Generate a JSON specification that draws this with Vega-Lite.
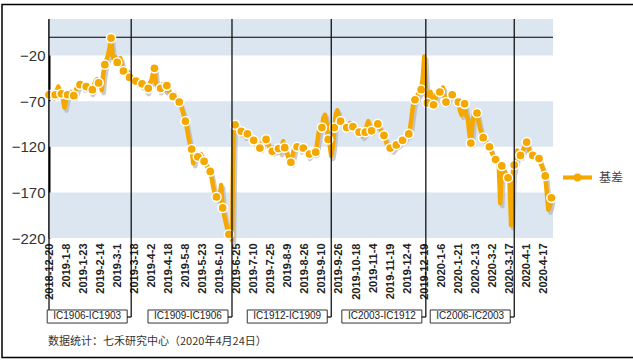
{
"$schema":"https://vega.github.io/schema/vega-lite/v6.json",
"width":504,"height":219,
"padding":{"left":1,"top":3,"right":2,"bottom":2},
"background":"white",
"config":{"view":{"stroke":null},"font":"Liberation Sans"},
"datasets":{
"basis":[
{"d":"2018-12-20","v":-63},{"d":"2018-12-21","v":-60},{"d":"2018-12-24","v":-64},{"d":"2018-12-25","v":-62},{"d":"2018-12-26","v":-63},{"d":"2018-12-27","v":-58},{"d":"2018-12-28","v":-54},
{"d":"2019-01-02","v":-60},{"d":"2019-01-03","v":-62},{"d":"2019-01-04","v":-68},{"d":"2019-01-07","v":-77},{"d":"2019-01-08","v":-68},{"d":"2019-01-09","v":-63},{"d":"2019-01-10","v":-62},{"d":"2019-01-11","v":-60},{"d":"2019-01-14","v":-63},{"d":"2019-01-15","v":-64},{"d":"2019-01-16","v":-60},{"d":"2019-01-17","v":-55},{"d":"2019-01-18","v":-53},{"d":"2019-01-21","v":-52},{"d":"2019-01-22","v":-50},{"d":"2019-01-23","v":-55},{"d":"2019-01-24","v":-52},{"d":"2019-01-25","v":-54},{"d":"2019-01-28","v":-52},{"d":"2019-01-29","v":-56},{"d":"2019-01-30","v":-60},{"d":"2019-01-31","v":-57.5},
{"d":"2019-02-01","v":-52},{"d":"2019-02-11","v":-48},{"d":"2019-02-12","v":-46},{"d":"2019-02-13","v":-50},{"d":"2019-02-14","v":-48},{"d":"2019-02-15","v":-58},{"d":"2019-02-18","v":-40},{"d":"2019-02-19","v":-30},{"d":"2019-02-20","v":-25},{"d":"2019-02-21","v":-20},{"d":"2019-02-22","v":-12},{"d":"2019-02-25","v":-1},{"d":"2019-02-26","v":-20},{"d":"2019-02-27","v":-25},{"d":"2019-02-28","v":-22},
{"d":"2019-03-01","v":-27.6},{"d":"2019-03-04","v":-25},{"d":"2019-03-05","v":-23},{"d":"2019-03-06","v":-30},{"d":"2019-03-07","v":-37},{"d":"2019-03-08","v":-40},{"d":"2019-03-11","v":-42},{"d":"2019-03-12","v":-38},{"d":"2019-03-13","v":-44},{"d":"2019-03-14","v":-46},{"d":"2019-03-15","v":-45},{"d":"2019-03-18","v":-48},{"d":"2019-03-19","v":-48},{"d":"2019-03-20","v":-50},{"d":"2019-03-21","v":-48},{"d":"2019-03-22","v":-52},{"d":"2019-03-25","v":-51},{"d":"2019-03-26","v":-54},{"d":"2019-03-27","v":-57},{"d":"2019-03-28","v":-59},{"d":"2019-03-29","v":-56},
{"d":"2019-04-01","v":-50},{"d":"2019-04-02","v":-48},{"d":"2019-04-03","v":-40},{"d":"2019-04-04","v":-34},{"d":"2019-04-08","v":-50},{"d":"2019-04-09","v":-55},{"d":"2019-04-10","v":-58},{"d":"2019-04-11","v":-56},{"d":"2019-04-12","v":-52},{"d":"2019-04-15","v":-55},{"d":"2019-04-16","v":-58},{"d":"2019-04-17","v":-53},{"d":"2019-04-18","v":-58},{"d":"2019-04-19","v":-62},{"d":"2019-04-22","v":-64},{"d":"2019-04-23","v":-65},{"d":"2019-04-24","v":-62},{"d":"2019-04-25","v":-68},{"d":"2019-04-26","v":-70},{"d":"2019-04-29","v":-71},{"d":"2019-04-30","v":-75},
{"d":"2019-05-06","v":-80},{"d":"2019-05-07","v":-86},{"d":"2019-05-08","v":-92},{"d":"2019-05-09","v":-100},{"d":"2019-05-10","v":-110},{"d":"2019-05-13","v":-118},{"d":"2019-05-14","v":-122.5},{"d":"2019-05-15","v":-138},{"d":"2019-05-16","v":-130},{"d":"2019-05-17","v":-128},{"d":"2019-05-20","v":-131},{"d":"2019-05-21","v":-130},{"d":"2019-05-22","v":-128},{"d":"2019-05-23","v":-134},{"d":"2019-05-24","v":-136},{"d":"2019-05-27","v":-138},{"d":"2019-05-28","v":-142},{"d":"2019-05-29","v":-145},{"d":"2019-05-30","v":-147},{"d":"2019-05-31","v":-155},
{"d":"2019-06-03","v":-165},{"d":"2019-06-04","v":-172},{"d":"2019-06-05","v":-175},{"d":"2019-06-06","v":-178},{"d":"2019-06-10","v":-176},{"d":"2019-06-11","v":-162},{"d":"2019-06-12","v":-187},{"d":"2019-06-13","v":-195},{"d":"2019-06-14","v":-203},{"d":"2019-06-17","v":-210},{"d":"2019-06-18","v":-216},{"d":"2019-06-19","v":-219},{"d":"2019-06-20","v":-222},{"d":"2019-06-21","v":-100},{"d":"2019-06-24","v":-96},{"d":"2019-06-25","v":-98},{"d":"2019-06-26","v":-101},{"d":"2019-06-27","v":-104},{"d":"2019-06-28","v":-103},
{"d":"2019-07-01","v":-102},{"d":"2019-07-02","v":-108},{"d":"2019-07-03","v":-104},{"d":"2019-07-04","v":-106},{"d":"2019-07-05","v":-110},{"d":"2019-07-08","v":-108},{"d":"2019-07-09","v":-112},{"d":"2019-07-10","v":-113},{"d":"2019-07-11","v":-116},{"d":"2019-07-12","v":-119},{"d":"2019-07-15","v":-118},{"d":"2019-07-16","v":-121.5},{"d":"2019-07-17","v":-118},{"d":"2019-07-18","v":-114},{"d":"2019-07-19","v":-112},{"d":"2019-07-22","v":-112},{"d":"2019-07-23","v":-116},{"d":"2019-07-24","v":-120},{"d":"2019-07-25","v":-124},{"d":"2019-07-26","v":-125},{"d":"2019-07-29","v":-121},{"d":"2019-07-30","v":-124},{"d":"2019-07-31","v":-120},
{"d":"2019-08-01","v":-122},{"d":"2019-08-02","v":-126},{"d":"2019-08-05","v":-120},{"d":"2019-08-06","v":-114},{"d":"2019-08-07","v":-121},{"d":"2019-08-08","v":-126},{"d":"2019-08-09","v":-130},{"d":"2019-08-12","v":-134},{"d":"2019-08-13","v":-137},{"d":"2019-08-14","v":-130},{"d":"2019-08-15","v":-122},{"d":"2019-08-16","v":-119},{"d":"2019-08-19","v":-120},{"d":"2019-08-20","v":-118},{"d":"2019-08-21","v":-123},{"d":"2019-08-22","v":-121},{"d":"2019-08-23","v":-121.5},{"d":"2019-08-26","v":-124},{"d":"2019-08-27","v":-127},{"d":"2019-08-28","v":-130},{"d":"2019-08-29","v":-128},{"d":"2019-08-30","v":-127},
{"d":"2019-09-02","v":-125},{"d":"2019-09-03","v":-127},{"d":"2019-09-04","v":-126},{"d":"2019-09-05","v":-115},{"d":"2019-09-06","v":-103},{"d":"2019-09-09","v":-100},{"d":"2019-09-10","v":-99},{"d":"2019-09-11","v":-88},{"d":"2019-09-12","v":-85},{"d":"2019-09-16","v":-95},{"d":"2019-09-17","v":-112},{"d":"2019-09-18","v":-118},{"d":"2019-09-19","v":-130},{"d":"2019-09-20","v":-120},{"d":"2019-09-23","v":-99},{"d":"2019-09-24","v":-84},{"d":"2019-09-25","v":-80},{"d":"2019-09-26","v":-88},{"d":"2019-09-27","v":-92},{"d":"2019-09-30","v":-95},
{"d":"2019-10-08","v":-97},{"d":"2019-10-09","v":-96},{"d":"2019-10-10","v":-99},{"d":"2019-10-11","v":-97},{"d":"2019-10-14","v":-94},{"d":"2019-10-15","v":-95},{"d":"2019-10-16","v":-98},{"d":"2019-10-17","v":-100},{"d":"2019-10-18","v":-102},{"d":"2019-10-21","v":-103},{"d":"2019-10-22","v":-104},{"d":"2019-10-23","v":-106},{"d":"2019-10-24","v":-108},{"d":"2019-10-25","v":-106},{"d":"2019-10-28","v":-104},{"d":"2019-10-29","v":-96},{"d":"2019-10-30","v":-92},{"d":"2019-10-31","v":-100},
{"d":"2019-11-01","v":-102.5},{"d":"2019-11-04","v":-99},{"d":"2019-11-05","v":-96},{"d":"2019-11-06","v":-95},{"d":"2019-11-07","v":-95},{"d":"2019-11-08","v":-98},{"d":"2019-11-11","v":-102},{"d":"2019-11-12","v":-105},{"d":"2019-11-13","v":-107.6},{"d":"2019-11-14","v":-112},{"d":"2019-11-15","v":-118},{"d":"2019-11-18","v":-122},{"d":"2019-11-19","v":-121.5},{"d":"2019-11-20","v":-123},{"d":"2019-11-21","v":-121},{"d":"2019-11-22","v":-119},{"d":"2019-11-25","v":-118},{"d":"2019-11-26","v":-117},{"d":"2019-11-27","v":-115},{"d":"2019-11-28","v":-114},{"d":"2019-11-29","v":-113},
{"d":"2019-12-02","v":-111},{"d":"2019-12-03","v":-108},{"d":"2019-12-04","v":-107},{"d":"2019-12-05","v":-106},{"d":"2019-12-06","v":-98},{"d":"2019-12-09","v":-85},{"d":"2019-12-10","v":-72},{"d":"2019-12-11","v":-68.5},{"d":"2019-12-12","v":-66},{"d":"2019-12-13","v":-62},{"d":"2019-12-16","v":-60},{"d":"2019-12-17","v":-57.5},{"d":"2019-12-18","v":-45},{"d":"2019-12-19","v":-21},{"d":"2019-12-20","v":-55},{"d":"2019-12-23","v":-72},{"d":"2019-12-24","v":-68},{"d":"2019-12-25","v":-60},{"d":"2019-12-26","v":-70},{"d":"2019-12-27","v":-74},{"d":"2019-12-30","v":-68},{"d":"2019-12-31","v":-62},
{"d":"2020-01-02","v":-58},{"d":"2020-01-03","v":-60},{"d":"2020-01-06","v":-62},{"d":"2020-01-07","v":-55},{"d":"2020-01-08","v":-65},{"d":"2020-01-09","v":-71},{"d":"2020-01-10","v":-68},{"d":"2020-01-13","v":-64},{"d":"2020-01-14","v":-62},{"d":"2020-01-15","v":-63},{"d":"2020-01-16","v":-66},{"d":"2020-01-17","v":-68},{"d":"2020-01-20","v":-70},{"d":"2020-01-21","v":-71},{"d":"2020-01-22","v":-80},{"d":"2020-01-23","v":-85},
{"d":"2020-02-03","v":-78},{"d":"2020-02-04","v":-73},{"d":"2020-02-05","v":-85},{"d":"2020-02-06","v":-88},{"d":"2020-02-07","v":-105},{"d":"2020-02-10","v":-116},{"d":"2020-02-11","v":-95},{"d":"2020-02-12","v":-84},{"d":"2020-02-13","v":-80},{"d":"2020-02-14","v":-83},{"d":"2020-02-17","v":-92},{"d":"2020-02-18","v":-100},{"d":"2020-02-19","v":-105},{"d":"2020-02-20","v":-110},{"d":"2020-02-24","v":-112},{"d":"2020-02-25","v":-115},{"d":"2020-02-26","v":-118},{"d":"2020-02-27","v":-120},{"d":"2020-02-28","v":-124},
{"d":"2020-03-02","v":-128},{"d":"2020-03-03","v":-131},{"d":"2020-03-04","v":-134},{"d":"2020-03-05","v":-136},{"d":"2020-03-06","v":-138},{"d":"2020-03-09","v":-182},{"d":"2020-03-10","v":-141},{"d":"2020-03-11","v":-145},{"d":"2020-03-12","v":-148},{"d":"2020-03-13","v":-150},{"d":"2020-03-16","v":-154},{"d":"2020-03-17","v":-160},{"d":"2020-03-18","v":-206},{"d":"2020-03-19","v":-150},{"d":"2020-03-20","v":-140},{"d":"2020-03-23","v":-137},{"d":"2020-03-24","v":-124},{"d":"2020-03-25","v":-128},{"d":"2020-03-26","v":-129.5},{"d":"2020-03-27","v":-126},{"d":"2020-03-30","v":-122},{"d":"2020-03-31","v":-118},
{"d":"2020-04-01","v":-115},{"d":"2020-04-02","v":-120},{"d":"2020-04-03","v":-126},{"d":"2020-04-07","v":-128},{"d":"2020-04-08","v":-129.5},{"d":"2020-04-09","v":-130},{"d":"2020-04-10","v":-131},{"d":"2020-04-13","v":-132},{"d":"2020-04-14","v":-133},{"d":"2020-04-15","v":-138},{"d":"2020-04-16","v":-142},{"d":"2020-04-17","v":-147},{"d":"2020-04-20","v":-152},{"d":"2020-04-21","v":-170},{"d":"2020-04-22","v":-189},{"d":"2020-04-23","v":-185},{"d":"2020-04-24","v":-176}
],
"rolls":[{"d":"2018-12-20"},{"d":"2019-03-14"},{"d":"2019-06-20"},{"d":"2019-09-19"},{"d":"2019-12-20"},{"d":"2020-03-20"}],
"boxes":[{"d":"2019-03-14","label":"IC1906-IC1903"},{"d":"2019-06-20","label":"IC1909-IC1906"},{"d":"2019-09-19","label":"IC1912-IC1909"},{"d":"2019-12-20","label":"IC2003-IC1912"},{"d":"2020-03-20","label":"IC2006-IC2003"}],
"bands":[{"lo":-220,"hi":-170},{"lo":-120,"hi":-70},{"lo":-20,"hi":20}],
"note":[{"t":"数据统计：七禾研究中心（2020年4月24日）"}]
},
"layer":[
{"data":{"name":"bands"},"mark":{"type":"rect","color":"#DCE6F1"},
 "encoding":{"y":{"field":"hi","type":"quantitative","title":null,"scale":{"domain":[-220,20],"nice":false,"zero":false},
   "axis":{"title":null,"values":[-220,-170,-120,-70,-20],"grid":false,"ticks":false,"domain":true,"domainColor":"#000","domainWidth":2,"labelFontSize":15,"labelColor":"#333","labelPadding":4,"labelFont":"Liberation Sans"}},
  "y2":{"field":"lo"}}},
{"data":{"values":[{}]},"mark":{"type":"rule","color":"#000","strokeWidth":1.2},"encoding":{"y":{"datum":0,"type":"quantitative"}}},
{"data":{"name":"basis"},"mark":{"type":"line","color":"#b5b5b5","strokeWidth":4.5,"xOffset":2,"yOffset":3,"opacity":0.7,"strokeJoin":"round"},
 "encoding":{"x":{"field":"d","type":"ordinal","title":null,"scale":{"type":"point","paddingOuter":4,"align":0},
   "axis":{"title":null,"values":["2018-12-20","2019-01-08","2019-01-23","2019-02-14","2019-03-01","2019-03-18","2019-04-02","2019-04-18","2019-05-08","2019-05-23","2019-06-10","2019-06-25","2019-07-10","2019-07-25","2019-08-09","2019-08-26","2019-09-10","2019-09-26","2019-10-18","2019-11-04","2019-11-19","2019-12-04","2019-12-19","2020-01-06","2020-01-21","2020-02-13","2020-03-02","2020-03-17","2020-04-01","2020-04-17"],
   "labelExpr":"utcFormat(toDate(datum.value), '%Y-%-m-%-d')","labelAngle":-90,"labelFontSize":11,"labelFontWeight":"bold","labelColor":"#222","labelFont":"Liberation Sans","ticks":false,"domain":false,"grid":false,"labelPadding":5,"labelOverlap":false}},
  "y":{"field":"v","type":"quantitative","title":null}}},
{"data":{"name":"basis"},"mark":{"type":"line","color":"#F5A800","strokeWidth":4.5,"strokeJoin":"round"},
 "encoding":{"x":{"field":"d","type":"ordinal","title":null},"y":{"field":"v","type":"quantitative","title":null}}},
{"data":{"name":"basis"},
 "transform":[{"window":[{"op":"row_number","as":"rn"}],"sort":[{"field":"d"}]},{"filter":"(datum.rn - 1) % 4 == 0"}],
 "mark":{"type":"point","filled":true,"size":85,"stroke":"#fff","strokeWidth":1.5,"opacity":1},
 "encoding":{"x":{"field":"d","type":"ordinal","title":null},"y":{"field":"v","type":"quantitative","title":null},
  "color":{"datum":"基差","type":"nominal","scale":{"range":["#F5A800"]},
   "legend":{"title":null,"orient":"none","legendX":513,"legendY":143,"padding":0,"symbolType":"M-1,-0.17H-0.247A0.3,0.3,0,0,1,0.247,-0.17H1V0.17H0.247A0.3,0.3,0,0,1,-0.247,0.17H-1Z","symbolSize":900,"symbolStrokeColor":"#fff","symbolStrokeWidth":1,"labelFontSize":12,"labelFont":"Noto Sans CJK SC","labelColor":"#444","labelOffset":6}}}},
{"data":{"name":"rolls"},"mark":{"type":"rule","color":"#000","strokeWidth":1.2},
 "encoding":{"x":{"field":"d","type":"ordinal","title":null},"y":{"datum":20,"type":"quantitative"},"y2":{"datum":-306.6}}},
{"data":{"name":"boxes"},"mark":{"type":"rect","fill":"#fff","stroke":"#333","strokeWidth":1,"xOffset":-84,"x2Offset":-4},
 "encoding":{"x":{"field":"d","type":"ordinal","title":null},"x2":{"field":"d"},"y":{"datum":-298.9,"type":"quantitative"},"y2":{"datum":-313.2}}},
{"data":{"name":"boxes"},"mark":{"type":"rule","color":"#000","strokeWidth":1.2,"xOffset":-4},
 "encoding":{"x":{"field":"d","type":"ordinal","title":null},"x2":{"field":"d"},"y":{"datum":-306.6,"type":"quantitative"}}},
{"data":{"name":"boxes"},"mark":{"type":"text","dx":-44,"align":"center","baseline":"middle","fontSize":10,"color":"#222","font":"Liberation Sans"},
 "encoding":{"x":{"field":"d","type":"ordinal","title":null},"y":{"datum":-306,"type":"quantitative"},"text":{"field":"label"}}},
{"data":{"name":"note"},"mark":{"type":"text","align":"left","baseline":"middle","fontSize":11,"color":"#333","font":"Noto Sans CJK SC","dx":-1},
 "encoding":{"x":{"datum":"2018-12-20","type":"ordinal"},"y":{"datum":-334,"type":"quantitative"},"text":{"field":"t"}}},
{"data":{"values":[{}]},"mark":{"type":"rect","fill":null,"fillOpacity":0,"stroke":"#000","strokeWidth":1.5,"xOffset":-47,"x2Offset":88},
 "encoding":{"x":{"datum":"2018-12-20","type":"ordinal"},"x2":{"datum":"2020-04-24"},"y":{"datum":36,"type":"quantitative"},"y2":{"datum":-351}}}
]
}
